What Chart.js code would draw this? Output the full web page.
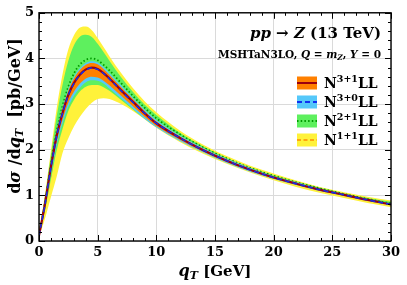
<!DOCTYPE html>
<html>
<head>
<meta charset="utf-8">
<script src="https://cdn.jsdelivr.net/npm/chart.js@4"></script>
<style>
  html, body { margin: 0; padding: 0; background: #fff; }
  #wrap { width: 407px; height: 285px; position: relative; }
</style>
</head>
<body>
<div id="wrap"><canvas id="qtChart" width="407" height="285"></canvas></div>
<script>
// q_T grid (GeV)
const qT = [0, 0.5, 1, 1.5, 2, 2.5, 3, 3.5, 4, 4.5, 5, 5.5, 6, 7, 8, 9, 10, 12, 14, 16, 18, 20, 22, 24, 26, 28, 30];

// N1+1LL (yellow)
const n11Hi  = [0.2, 1.0, 1.95, 2.9, 3.65, 4.2, 4.52, 4.68, 4.7, 4.62, 4.45, 4.25, 4.05, 3.68, 3.35, 3.06, 2.82, 2.42, 2.11, 1.86, 1.65, 1.48, 1.32, 1.18, 1.07, 0.97, 0.89];
const n11Lo  = [0.08, 0.48, 0.95, 1.4, 1.92, 2.25, 2.52, 2.73, 2.9, 3.03, 3.11, 3.13, 3.11, 3.0, 2.85, 2.67, 2.48, 2.17, 1.91, 1.69, 1.5, 1.33, 1.18, 1.05, 0.94, 0.83, 0.74];
const n11Mid = [0.13, 0.75, 1.45, 2.15, 2.7, 3.15, 3.48, 3.7, 3.82, 3.86, 3.84, 3.76, 3.66, 3.4, 3.13, 2.88, 2.66, 2.3, 2.02, 1.78, 1.58, 1.41, 1.26, 1.13, 1.02, 0.91, 0.81];

// N2+1LL (green)
const n21Hi  = [0.18, 0.95, 1.85, 2.72, 3.42, 3.95, 4.3, 4.48, 4.52, 4.47, 4.32, 4.14, 3.95, 3.59, 3.27, 2.99, 2.76, 2.37, 2.07, 1.82, 1.61, 1.44, 1.29, 1.16, 1.04, 0.94, 0.86];
const n21Lo  = [0.1, 0.66, 1.33, 1.98, 2.45, 2.85, 3.1, 3.28, 3.38, 3.42, 3.42, 3.37, 3.29, 3.09, 2.88, 2.68, 2.5, 2.2, 1.95, 1.73, 1.54, 1.37, 1.23, 1.1, 0.99, 0.88, 0.79];
const n21Mid = [0.13, 0.82, 1.65, 2.4, 2.95, 3.38, 3.68, 3.87, 3.97, 4.0, 3.96, 3.86, 3.74, 3.46, 3.18, 2.92, 2.69, 2.34, 2.05, 1.81, 1.6, 1.43, 1.28, 1.15, 1.03, 0.92, 0.82];

// N3+0LL (light blue)
const n30Hi  = [0.14, 0.85, 1.68, 2.41, 2.92, 3.33, 3.61, 3.79, 3.9, 3.94, 3.91, 3.81, 3.68, 3.41, 3.14, 2.88, 2.65, 2.31, 2.04, 1.8, 1.6, 1.42, 1.28, 1.14, 1.03, 0.92, 0.82];
const n30Lo  = [0.09, 0.71, 1.45, 2.1, 2.57, 2.94, 3.19, 3.36, 3.48, 3.52, 3.51, 3.45, 3.34, 3.12, 2.9, 2.68, 2.49, 2.19, 1.94, 1.71, 1.52, 1.36, 1.22, 1.09, 0.99, 0.88, 0.78];
const n30Mid = [0.12, 0.79, 1.59, 2.29, 2.79, 3.19, 3.46, 3.64, 3.75, 3.79, 3.76, 3.67, 3.55, 3.29, 3.04, 2.8, 2.58, 2.26, 1.99, 1.76, 1.56, 1.39, 1.25, 1.12, 1.01, 0.9, 0.8];

// N3+1LL (orange)
const n31Hi  = [0.13, 0.83, 1.65, 2.37, 2.88, 3.29, 3.57, 3.75, 3.86, 3.9, 3.87, 3.77, 3.64, 3.37, 3.11, 2.85, 2.62, 2.29, 2.02, 1.78, 1.58, 1.41, 1.27, 1.13, 1.02, 0.91, 0.81];
const n31Lo  = [0.1, 0.75, 1.51, 2.17, 2.65, 3.03, 3.28, 3.45, 3.56, 3.6, 3.58, 3.51, 3.41, 3.18, 2.95, 2.72, 2.52, 2.22, 1.96, 1.73, 1.54, 1.37, 1.23, 1.1, 1.0, 0.89, 0.79];
const n31Mid = [0.12, 0.8, 1.6, 2.3, 2.8, 3.2, 3.47, 3.65, 3.76, 3.8, 3.77, 3.68, 3.56, 3.3, 3.05, 2.8, 2.58, 2.26, 1.99, 1.76, 1.56, 1.39, 1.25, 1.12, 1.01, 0.9, 0.8];

const legendOrders = ['3+1', '3+0', '2+1', '1+1'];

const SERIF = '"DejaVu Serif", "Liberation Serif", serif';
const YELLOW = '#fff23a', GREEN = '#5ef05e', CYAN = '#55c8fa', ORANGE = '#ff8000';

const pts = arr => arr.map((y, i) => ({ x: qT[i], y: y }));

function band(lo, hi, color) {
    return [
        { data: pts(lo), borderColor: 'transparent', borderWidth: 0, pointRadius: 0, fill: false },
        { data: pts(hi), borderColor: 'transparent', borderWidth: 0, pointRadius: 0, fill: '-1', backgroundColor: color }
    ];
}
function line(arr, color, dash, width) {
    return { data: pts(arr), borderColor: color, borderWidth: width, borderDash: dash, pointRadius: 0, fill: false };
}

// back-to-front
const datasets = [
    ...band(n11Lo, n11Hi, YELLOW),
    line(n11Mid, '#ff8c00', [5, 3], 1.5),
    ...band(n21Lo, n21Hi, GREEN),
    line(n21Mid, '#009a00', [1.5, 2.2], 1.8),
    ...band(n30Lo, n30Hi, CYAN),
    ...band(n31Lo, n31Hi, ORANGE),
    line(n31Mid, '#9a0010', [], 2.2),
    line(n30Mid, '#1030f0', [5, 3], 1.4)
];
datasets.forEach((d, i) => {
    d.order = datasets.length - i;
    d.cubicInterpolationMode = 'monotone';
});

// frame, inward ticks and all rich text
const decor = {
    id: 'decor',
    afterDraw(chart) {
        const ctx = chart.ctx, a = chart.chartArea;
        const xs = chart.scales.x, ys = chart.scales.y;
        ctx.save();
        ctx.strokeStyle = '#000';
        ctx.lineWidth = 1;
        ctx.beginPath();
        for (let v = 0; v <= 30; v += 1) {
            const px = Math.round(xs.getPixelForValue(v)) + 0.5;
            const len = v % 5 === 0 ? 6 : 3;
            ctx.moveTo(px, a.bottom); ctx.lineTo(px, a.bottom - len);
            ctx.moveTo(px, a.top); ctx.lineTo(px, a.top + len);
        }
        for (let k = 0; k <= 25; k++) {
            const py = Math.round(ys.getPixelForValue(k * 0.2)) + 0.5;
            const len = k % 5 === 0 ? 6 : 3;
            ctx.moveTo(a.left, py); ctx.lineTo(a.left + len, py);
            ctx.moveTo(a.right, py); ctx.lineTo(a.right - len, py);
        }
        ctx.stroke();
        ctx.lineWidth = 1.4;
        ctx.strokeRect(a.left, a.top, a.right - a.left, a.bottom - a.top);

        // rich text helper: parts = [text, style, size, dy]
        function rich(parts, x, y, align) {
            let w = 0;
            parts.forEach(p => { ctx.font = p[1] + ' ' + p[2] + 'px ' + SERIF; w += ctx.measureText(p[0]).width; });
            let cx = align === 'right' ? x - w : align === 'center' ? x - w / 2 : x;
            ctx.textAlign = 'left';
            ctx.textBaseline = 'alphabetic';
            parts.forEach(p => {
                ctx.font = p[1] + ' ' + p[2] + 'px ' + SERIF;
                ctx.fillText(p[0], cx, y + (p[3] || 0));
                cx += ctx.measureText(p[0]).width;
            });
        }
        ctx.fillStyle = '#000';
        rich([['pp', 'italic bold', 15], [' \u2192 ', 'bold', 15], ['Z', 'italic bold', 15], [' (13 TeV)', 'bold', 15]], 381, 38, 'right');
        rich([['MSHTaN3LO, ', 'bold', 10.5], ['Q', 'italic bold', 10.5], [' = ', 'bold', 10.5], ['m', 'italic bold', 10.5], ['Z', 'italic bold', 7.5, 2],
              [', ', 'bold', 10.5], ['Y', 'italic bold', 10.5], [' = 0', 'bold', 10.5]], 381, 58, 'right');

        // legend
        const rowY = [83, 102, 121, 140];
        const fills = [ORANGE, CYAN, GREEN, YELLOW];
        const strokes = [['#9a0010', [], 2], ['#1030f0', [5, 3], 2], ['#009a00', [1.5, 2.2], 2], ['#ff8c00', [4, 2.5], 1.5]];
        rowY.forEach((yy, i) => {
            ctx.fillStyle = fills[i];
            ctx.fillRect(297, yy - 6.5, 20, 13);
            ctx.strokeStyle = strokes[i][0];
            ctx.setLineDash(strokes[i][1]);
            ctx.lineWidth = strokes[i][2];
            ctx.beginPath(); ctx.moveTo(297, yy); ctx.lineTo(317, yy); ctx.stroke();
            ctx.setLineDash([]);
            ctx.fillStyle = '#000';
            rich([['N', 'bold', 14], [legendOrders[i], 'bold', 9.5, -6], ['LL', 'bold', 14]], 324, yy + 5, 'left');
        });

        // axis titles
        rich([['q', 'italic bold', 16], ['T', 'italic bold', 11, 3], [' [GeV]', 'bold', 15]], 215, 276, 'center');
        ctx.save();
        ctx.translate(20, 116);
        ctx.rotate(-Math.PI / 2);
        rich([['d', 'bold', 16], ['\u03c3', 'italic bold', 16], [' /d', 'bold', 16], ['q', 'italic bold', 16], ['T', 'italic bold', 11, 3],
              ['  [pb/GeV]', 'bold', 16]], 0, 0, 'center');
        ctx.restore();
        ctx.restore();
    }
};

new Chart(document.getElementById('qtChart'), {
    type: 'line',
    data: { datasets: datasets },
    options: {
        responsive: false,
        animation: false,
        layout: { padding: { top: 12, right: 16, left: 0, bottom: 0 } },
        plugins: { legend: { display: false }, tooltip: { enabled: false } },
        scales: {
            x: {
                type: 'linear', min: 0, max: 30,
                afterFit: s => { s.height = 44; },
                ticks: { stepSize: 5, padding: 4, color: '#000', font: { family: SERIF, weight: 'bold', size: 13 }, maxRotation: 0 },
                grid: { color: '#dadada', lineWidth: 1, drawTicks: false },
                border: { display: false }
            },
            y: {
                min: 0, max: 5,
                afterFit: s => { s.width = 39; },
                ticks: { stepSize: 1, padding: 5, color: '#000', font: { family: SERIF, weight: 'bold', size: 13 } },
                grid: { color: '#dadada', lineWidth: 1, drawTicks: false },
                border: { display: false }
            }
        }
    },
    plugins: [decor]
});
</script>
</body>
</html>
